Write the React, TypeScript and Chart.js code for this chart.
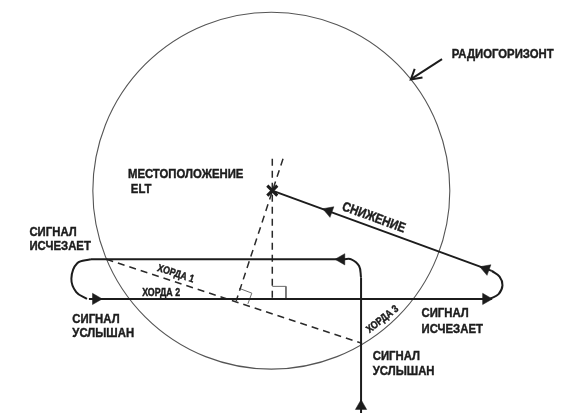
import React, { useEffect, useRef } from "react";
import { Chart, registerables } from "chart.js";

Chart.register(...registerables);

const CANVAS_W = 568;
const CANVAS_H = 420;

// Radio horizon circle (data units = diagram units)
const horizonCenter = [271, 190];
const horizonRadius = 183;

// ELT position marker
const eltPosition = [272, 190];
const eltMarkHalf = 5;

// Flight track pieces
const descentTrack = [[272, 190], [497, 273]];
const rightTurn = [[497, 273], [505, 279], [508, 288], [504, 297], [495, 302]];
const eastboundLeg = [[84, 302], [497, 302]];
const leftTurn = [[86, 261], [72, 265], [66, 281], [71, 295], [82, 302]];
const westboundLeg = [[346, 261], [86, 261]];
const approachLeg = [[363, 420], [363, 280]];
const approachTurn = [[363, 280], [361, 268], [353, 261], [345, 261]];

// Construction lines
const chord1 = [[102, 261], [364, 348]];
const bisector1 = [[283, 157], [235, 304]];
const bisector2 = [[272, 157], [272, 302]];
const rightAngle1 = [[238, 291], [251, 296], [247, 307]];
const rightAngle2 = [[272, 289], [286, 289], [286, 302]];

// Pointer to the radio horizon
const horizonPointer = [[446, 54], [415, 74]];
const horizonPointerHead = [[418, 64], [414, 75], [426, 73]];

// Direction arrowheads on the track
const arrowPoints = [[343, 261], [91, 302], [491, 302], [491, 271], [330, 211], [363, 413]];
const arrowAngles = [-90, 90, 90, -70, -70, 0];

// Text labels
const labelTexts = [
  "РАДИОГОРИЗОНТ",
  "МЕСТОПОЛОЖЕНИЕ", "ELT",
  "СИГНАЛ", "ИСЧЕЗАЕТ",
  "СИГНАЛ", "УСЛЫШАН",
  "СИГНАЛ", "ИСЧЕЗАЕТ",
  "СИГНАЛ", "УСЛЫШАН",
  "СНИЖЕНИЕ",
  "ХОРДА 1", "ХОРДА 2", "ХОРДА 3",
];
const labelX = [456, 124, 127, 23, 23, 67, 67, 425, 425, 375, 375, 376, 173, 158, 385];
const labelY = [49, 173, 189, 233, 248, 323, 338, 317, 333, 361, 377, 218, 276, 296, 323];
const labelAngle = [0, 0, 0, 0, 0, 0, 0, 0, 0, 0, 0, 20, 18, 0, -38];
const labelSize = [13.5, 13.5, 13.5, 13.5, 13.5, 13.5, 13.5, 13.5, 13.5, 13.5, 13.5, 13.5, 10.5, 10.5, 10.5];
const labelAlign = ["left", "left", "left", "left", "left", "left", "left", "left", "left", "left", "left", "center", "center", "center", "center"];

const INK = "#1c1c1c";

const toXY = (pts: number[][]) => pts.map(([x, y]) => ({ x, y }));

const solid = (pts: number[][], curved = false) => ({
  data: toXY(pts),
  showLine: true,
  borderColor: INK,
  borderWidth: 2,
  pointRadius: 0,
  tension: curved ? 0.4 : 0,
  clip: false as any,
});

const dashed = (pts: number[][]) => ({
  data: toXY(pts),
  showLine: true,
  borderColor: "#2a2a2a",
  borderWidth: 1.5,
  borderDash: [7, 5],
  pointRadius: 0,
  clip: false as any,
});

const thin = (pts: number[][]) => ({
  data: toXY(pts),
  showLine: true,
  borderColor: "#6a6a6a",
  borderWidth: 1,
  pointRadius: 0,
  clip: false as any,
});

const diagramPlugin = {
  id: "diagramExtras",
  beforeDatasetsDraw(chart: any) {
    const { ctx, scales } = chart;
    const xs = scales.x;
    const ys = scales.y;
    const cx = xs.getPixelForValue(horizonCenter[0]);
    const cy = ys.getPixelForValue(horizonCenter[1]);
    const r = xs.getPixelForValue(horizonCenter[0] + horizonRadius) - cx;
    ctx.save();
    ctx.beginPath();
    ctx.arc(cx, cy, r, 0, Math.PI * 2);
    ctx.strokeStyle = "#555555";
    ctx.lineWidth = 1.1;
    ctx.stroke();
    ctx.restore();
  },
  afterDatasetsDraw(chart: any) {
    const { ctx, scales } = chart;
    const xs = scales.x;
    const ys = scales.y;

    // ELT cross marker
    const ex = xs.getPixelForValue(eltPosition[0]);
    const ey = ys.getPixelForValue(eltPosition[1]);
    ctx.save();
    ctx.strokeStyle = INK;
    ctx.lineWidth = 3;
    ctx.lineCap = "butt";
    ctx.beginPath();
    ctx.moveTo(ex - eltMarkHalf, ey - eltMarkHalf);
    ctx.lineTo(ex + eltMarkHalf, ey + eltMarkHalf);
    ctx.moveTo(ex - eltMarkHalf, ey + eltMarkHalf);
    ctx.lineTo(ex + eltMarkHalf, ey - eltMarkHalf);
    ctx.stroke();
    ctx.restore();

    labelTexts.forEach((t, i) => {
      const px = xs.getPixelForValue(labelX[i]);
      const py = ys.getPixelForValue(labelY[i]);
      ctx.save();
      ctx.translate(px, py);
      ctx.rotate((labelAngle[i] * Math.PI) / 180);
      ctx.scale(0.84, 1);
      ctx.font = `bold ${labelSize[i]}px "Liberation Sans", Arial, sans-serif`;
      ctx.fillStyle = INK;
      ctx.strokeStyle = INK;
      ctx.lineWidth = 0.45;
      ctx.textBaseline = "middle";
      ctx.textAlign = labelAlign[i] as CanvasTextAlign;
      ctx.fillText(t, 0, 0);
      ctx.strokeText(t, 0, 0);
      ctx.restore();
    });
  },
};

export default function App() {
  const canvasRef = useRef<HTMLCanvasElement | null>(null);

  useEffect(() => {
    const canvas = canvasRef.current;
    if (!canvas) return;
    const chart = new Chart(canvas, {
      type: "scatter",
      data: {
        datasets: [
          {
            data: toXY(arrowPoints),
            pointStyle: "triangle",
            pointRadius: 6.5,
            pointRotation: arrowAngles,
            backgroundColor: INK,
            borderColor: INK,
            pointBorderWidth: 0.5,
            showLine: false,
            clip: false,
          } as any,
          solid(descentTrack),
          solid(rightTurn, true),
          solid(eastboundLeg),
          solid(leftTurn, true),
          solid(westboundLeg),
          solid(approachLeg),
          solid(approachTurn, true),
          solid(horizonPointer),
          solid(horizonPointerHead),
          dashed(chord1),
          dashed(bisector1),
          dashed(bisector2),
          thin(rightAngle1),
          thin(rightAngle2),
        ],
      },
      options: {
        animation: false,
        responsive: false,
        devicePixelRatio: 1,
        layout: { padding: 0 },
        plugins: {
          legend: { display: false },
          tooltip: { enabled: false },
        },
        scales: {
          x: { type: "linear", min: 0, max: CANVAS_W, display: false },
          y: { type: "linear", min: 0, max: CANVAS_H, reverse: true, display: false },
        },
      },
      plugins: [diagramPlugin],
    } as any);
    return () => chart.destroy();
  }, []);

  return (
    <div
      style={{
        position: "absolute",
        left: 0,
        top: 0,
        width: CANVAS_W,
        height: CANVAS_H,
        background: "#ffffff",
      }}
    >
      <canvas ref={canvasRef} width={CANVAS_W} height={CANVAS_H} />
    </div>
  );
}
